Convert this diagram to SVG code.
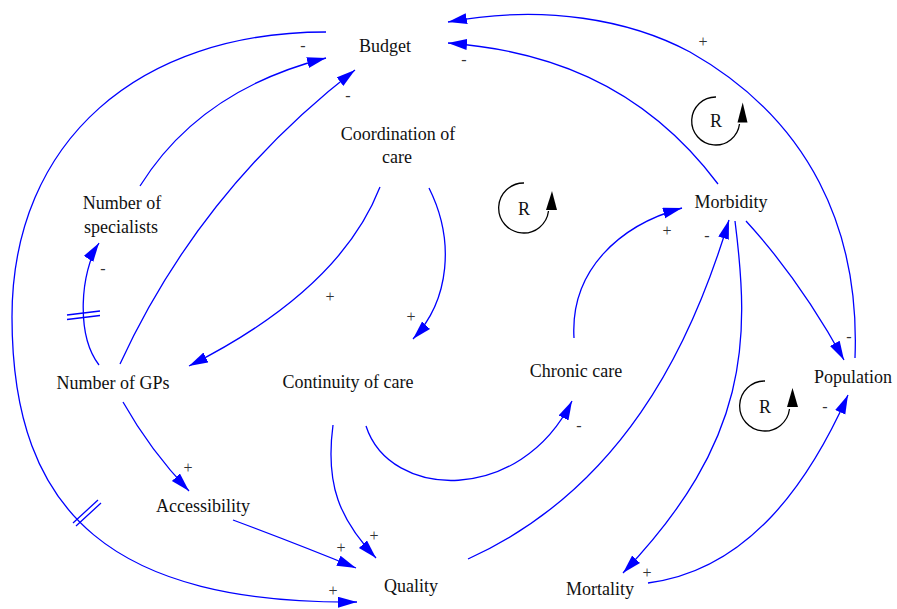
<svg xmlns="http://www.w3.org/2000/svg" width="897" height="609" viewBox="0 0 897 609">
  <style>
    text { font-family: "Liberation Serif", "DejaVu Serif", serif; }
    .node text { font-size: 18px; fill: #111; text-anchor: middle; }
    .link { fill: none; stroke: #0000ff; stroke-width: 1.3; marker-end: url(#arrow); }
    .delay { fill: none; stroke: #0000ff; stroke-width: 1.3; }
    .pol { font-size: 16px; fill: #333; text-anchor: middle; }
    .loop path.ring { fill: none; stroke: #000; stroke-width: 1.3; }
    .loop polygon { fill: #000; }
    .loop text { font-size: 18px; fill: #111; text-anchor: middle; }
  </style>
  <defs>
    <marker id="arrow" markerUnits="userSpaceOnUse" markerWidth="20" markerHeight="12" refX="19" refY="5.5" orient="auto">
      <path d="M0,0 L19,5.5 L0,11 Z" fill="#0000ff"/>
    </marker>
  </defs>
  <rect width="897" height="609" fill="#ffffff"/>

  <!-- causal links -->
  <g id="connectors">
    <path class="link" d="M326,32 C140,32 12,140 12,317 C12,516 115,604 357,602"/>
    <path class="link" d="M140,186 Q200,90 326,58"/>
    <path class="link" d="M120,364 Q200,190 355,70"/>
    <path class="link" d="M99,365 C76,335 80,272 99,243"/>
    <path class="link" d="M380,187 Q340,290 189,366"/>
    <path class="link" d="M429,188 C455,240 450,300 413,339"/>
    <path class="link" d="M333,425 C325,485 340,520 376,558"/>
    <path class="link" d="M233,520 Q300,545 356,568"/>
    <path class="link" d="M123,402 Q150,450 189,491"/>
    <path class="link" d="M366,426 C390,500 520,505 572,401"/>
    <path class="link" d="M574,338 C570,270 620,225 682,208"/>
    <path class="link" d="M468,559 C620,490 690,350 729,220"/>
    <path class="link" d="M735,221 C750,340 750,440 623,573"/>
    <path class="link" d="M648,583 C750,570 810,480 848,395"/>
    <path class="link" d="M746,221 Q800,280 844,360"/>
    <path class="link" d="M855,358 C860,230 810,120 690,52 C630,20 545,4 448,22"/>
    <path class="link" d="M718,184 C640,80 540,50 448,43"/>
    <!-- delay marks -->
    <path class="delay" d="M67,315 L100,311 M67,319.5 L100,315.5"/>
    <path class="delay" d="M73,523 L98,500 M76,526 L101,503"/>
  </g>

  <!-- polarity signs -->
  <g id="polarities">
    <text class="pol" x="303" y="51">-</text>
    <text class="pol" x="348" y="101">-</text>
    <text class="pol" x="103" y="274">-</text>
    <text class="pol" x="330" y="302">+</text>
    <text class="pol" x="411" y="322">+</text>
    <text class="pol" x="188" y="473">+</text>
    <text class="pol" x="341" y="553">+</text>
    <text class="pol" x="374" y="541">+</text>
    <text class="pol" x="333" y="596">+</text>
    <text class="pol" x="579" y="431">-</text>
    <text class="pol" x="667" y="236">+</text>
    <text class="pol" x="707" y="241">-</text>
    <text class="pol" x="647" y="578">+</text>
    <text class="pol" x="825" y="412">-</text>
    <text class="pol" x="849" y="342">-</text>
    <text class="pol" x="703" y="47">+</text>
    <text class="pol" x="464" y="65">-</text>
  </g>

  <!-- variables -->
  <g id="budget" class="node"><text x="385" y="52">Budget</text></g>
  <g id="coordination" class="node"><text x="398" y="140">Coordination of</text><text x="397" y="163">care</text></g>
  <g id="specialists" class="node"><text x="122" y="209">Number of</text><text x="121" y="233">specialists</text></g>
  <g id="gps" class="node"><text x="113" y="389">Number of GPs</text></g>
  <g id="continuity" class="node"><text x="348" y="388">Continuity of care</text></g>
  <g id="accessibility" class="node"><text x="203" y="512">Accessibility</text></g>
  <g id="quality" class="node"><text x="411" y="592">Quality</text></g>
  <g id="chronic" class="node"><text x="576" y="377">Chronic care</text></g>
  <g id="morbidity" class="node"><text x="731" y="208">Morbidity</text></g>
  <g id="population" class="node"><text x="853" y="383">Population</text></g>
  <g id="mortality" class="node"><text x="600" y="595">Mortality</text></g>

  <!-- reinforcing loop markers -->
  <g id="loop1" class="loop">
    <path class="ring" d="M716,97 A24,24 0 1 0 739.5,124"/>
    <polygon points="737.5,122.5 747.5,122.5 742.7,102.5"/>
    <text x="716" y="127">R</text>
  </g>
  <g id="loop2" class="loop">
    <path class="ring" d="M524,183 A25,25 0 1 0 548.5,211"/>
    <polygon points="546,210 557,210 552,191"/>
    <text x="524" y="215">R</text>
  </g>
  <g id="loop3" class="loop">
    <path class="ring" d="M765,381 A25,25 0 1 0 789.5,409"/>
    <polygon points="787,407 798,407 792.5,388"/>
    <text x="765" y="413">R</text>
  </g>
</svg>
